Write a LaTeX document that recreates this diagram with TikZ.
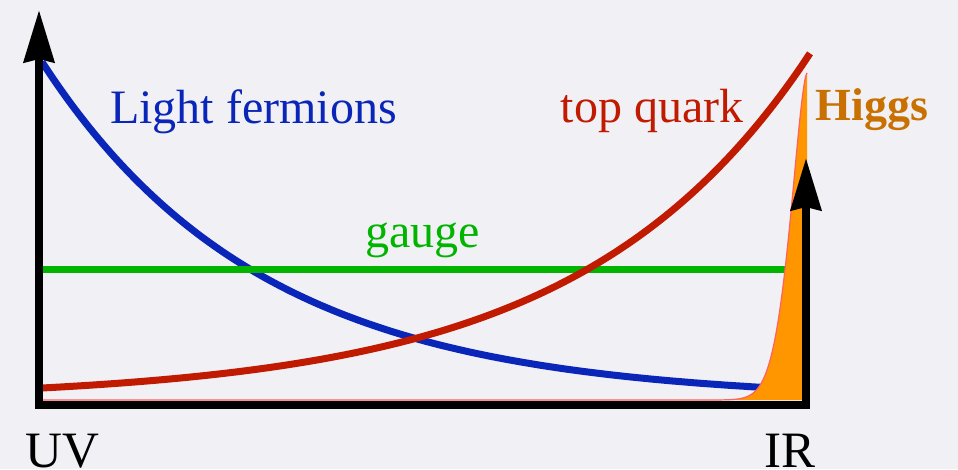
\documentclass[tikz,border=0pt]{standalone}
\usepackage{fontspec}
\setmainfont{Liberation Serif}
\usepackage{tikz}
\usetikzlibrary{arrows.meta}

\definecolor{bgcol}{HTML}{F1F0F5}
\definecolor{fermblue}{HTML}{0A26B8}
\definecolor{topred}{HTML}{C01A00}
\definecolor{gaugegreen}{HTML}{00B400}
\definecolor{higgsfill}{HTML}{FF9600}
\definecolor{higgsline}{HTML}{FF6060}
\definecolor{higgstext}{HTML}{C87000}

\tikzset{
	curve/.style={line width=7pt, line cap=butt},
	lbl/.style={anchor=base, inner sep=0pt, font=\fontsize{48}{56}\selectfont},
	axislbl/.style={anchor=base, inner sep=0pt, font=\fontsize{51}{60}\selectfont}
}

\begin{document}
\begin{tikzpicture}[x=1pt, y=-1pt]
		
		\fill[bgcol] (0,0) rectangle (958,469);
		\useasboundingbox (0,0) rectangle (958,469);
		
		% curves
		\draw[curve, fermblue] plot[domain=42:767, samples=120, smooth] (\x, {400-338*exp(-0.004557*(\x-42))});
		\draw[curve, gaugegreen] (42,269) -- (786,269);
		\draw[curve, topred] plot[domain=42:810, samples=120, smooth] (\x, {400-12*exp(0.004384*(\x-42))});
		
		% Higgs profile
		\fill[higgsfill] (700,400) -- plot[domain=700:807, samples=80, smooth] (\x, {400-327*exp(-((807.001-\x)/23.2)^1.6)}) -- (807,400) -- cycle;
		\draw[higgsline, line width=1.2pt] (42,400) -- (700,400) -- plot[domain=700:807, samples=80, smooth] (\x, {400-327*exp(-((807.001-\x)/23.2)^1.6)});
		
		% axes
		\draw[line width=8pt, line join=miter, {Stealth[length=52pt, width=30pt, inset=3pt]}-{Stealth[length=52pt, width=30pt, inset=3pt]}]
			(39,10) -- (39,404.5) -- (806,404.5) -- (806,158);
		
		% labels
		\node[lbl, fermblue] (lightlbl) at (253.5,123) {Light fermions};
		\node[lbl, topred] (toplbl) at (652,122) {top quark};
		\node[lbl, gaugegreen] (gaugelbl) at (422.5,247) {gauge};
		\node[lbl, higgstext, font=\fontsize{46}{54}\selectfont\bfseries] (higgslbl) at (872,120) {Higgs};
		\node[axislbl] (uvlbl) at (62.5,467) {UV};
		\node[axislbl] (irlbl) at (790,467) {IR};
		
	\end{tikzpicture}
\end{document}
